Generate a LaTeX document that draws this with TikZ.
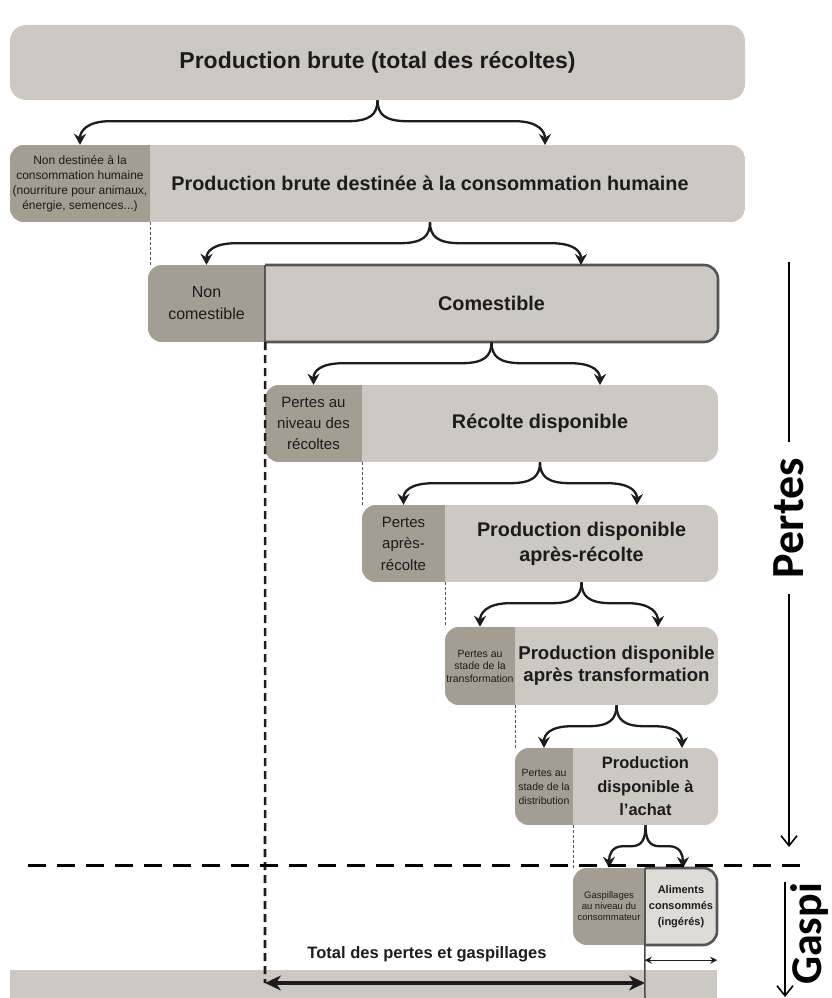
\documentclass[tikz,border=0pt]{standalone}
\usepackage{fontspec}
\setmainfont{Liberation Sans}
\newfontfamily\sidefont{Carlito}
\usetikzlibrary{arrows.meta,calc}

\definecolor{tierlight}{RGB}{205,200,193}
\definecolor{tierdark}{RGB}{164,157,145}
\definecolor{tierpale}{RGB}{223,220,215}
\definecolor{ink}{RGB}{28,28,28}

\newcommand{\fs}[2]{\fontsize{#1}{#2}\selectfont}

% one tier: dark part on the left, light part on the right
\newcommand{\tierfill}[6][tierlight]{%
	\begin{scope}
		\clip[rounded corners=14pt] (#2,#5) rectangle (#4,#6);
		\fill[#1] (#2,#5) rectangle (#4,#6);
		\fill[tierdark] (#2,#5) rectangle (#3,#6);
	\end{scope}}

% outline of a light part, square on the left
\newcommand{\tieroutline}[4]{%
	\begin{scope}
		\clip (#1,#3-3) rectangle (#2+3,#4+3);
		\draw[tieredge, rounded corners=14pt] (#1-20,#3) rectangle (#2,#4);
	\end{scope}
	\draw[tieredge] (#1,#3) -- (#1,#4);}

% curly split: tip, left end, right end, bend
\newcommand{\splitbrace}[4]{%
	\draw[split] (#1) .. controls ($(#1)+(0,14)$) and ($(#1)+(-#4/4,21)$) .. ($(#1)+(-#4,21)$)
		-- ($(#2|-#1)+(#4,21)$) .. controls ($(#2|-#1)+(#4/5,21)$) and ($(#2)+(0,-13)$) .. (#2);
	\draw[split] (#1) .. controls ($(#1)+(0,14)$) and ($(#1)+(#4/4,21)$) .. ($(#1)+(#4,21)$)
		-- ($(#3|-#1)+(-#4,21)$) .. controls ($(#3|-#1)+(-#4/5,21)$) and ($(#3)+(0,-13)$) .. (#3);}

\begin{document}
\begin{tikzpicture}[x=1pt, y=-1pt,
		part/.style={inner sep=0pt, align=center, text=ink},
		headpart/.style={part, font=\bfseries\fs{19.8}{25}},
		tieredge/.style={draw=ink!75, line width=2.6pt},
		split/.style={draw=ink, line width=2.3pt, -{Stealth[length=11pt,width=12pt]}},
		guide/.style={draw=ink!75, line width=1.4pt, dash pattern=on 3pt off 2pt},
		totalguide/.style={draw=ink, line width=2.6pt, dash pattern=on 8pt off 5pt},
		cutline/.style={draw=black, line width=3pt, dash pattern=on 18pt off 11pt},
		totalarrow/.style={draw=ink, line width=4pt, {Stealth[length=16pt,width=15pt]}-{Stealth[length=16pt,width=15pt]}},
		eatenspan/.style={draw=ink, line width=1.2pt, {Stealth[length=7pt,width=7pt]}-{Stealth[length=7pt,width=7pt]}},
		sidelabel/.style={rotate=90, anchor=base, inner sep=0pt, font=\sidefont\bfseries\fs{44}{50}},
		sideline/.style={draw=black, line width=1.6pt}]

	\useasboundingbox (0,0) rectangle (832,998);

	% tiers
	\node[part, fill=tierlight, rounded corners=16pt, minimum width=735pt, minimum height=75pt,
		font=\bfseries\fs{23}{27}] (brute) at (377.5,62.5) {Production brute (total des récoltes)};

	\tierfill{10}{150}{745}{145}{222}
	\tierfill{148}{265}{718}{265}{342}
	\tieroutline{265}{718}{265}{342}
	\tierfill{265}{362}{718}{385}{462}
	\tierfill{362}{445}{718}{505}{582}
	\tierfill{445}{515}{718}{627}{705}
	\tierfill{515}{573}{718}{748}{825}
	\tierfill[tierpale]{573}{645}{717}{868}{945}
	\tieroutline{645}{717}{868}{945}
	\fill[tierlight] (10,970) rectangle (717,998);

	\node[part, minimum width=140pt, minimum height=77pt, font=\fs{12}{15}] (nonhum) at (80,183.5)
		{Non destinée à la\\consommation humaine\\(nourriture pour animaux,\\énergie, semences...)};
	\node[headpart, minimum width=560pt, minimum height=77pt] (humaine) at (430,183.5)
		{Production brute destinée à la consommation humaine};

	\node[part, minimum width=117pt, minimum height=77pt, font=\fs{16}{22}] (noncom) at (206.5,303.5) {Non\\comestible};
	\node[headpart, minimum width=453pt, minimum height=77pt] (comest) at (491.5,303.5) {Comestible};

	\node[part, minimum width=97pt, minimum height=77pt, font=\fs{15}{21}] (pertrec) at (313.5,423.5) {Pertes au\\niveau des\\récoltes};
	\node[headpart, minimum width=356pt, minimum height=77pt] (recdisp) at (540,423.5) {Récolte disponible};

	\node[part, minimum width=83pt, minimum height=77pt, font=\fs{15}{21.5}] (pertapr) at (403.5,543.5) {Pertes\\après-\\récolte};
	\node[headpart, minimum width=273pt, minimum height=77pt] (prodapr) at (581.5,543.5) {Production disponible\\après-récolte};

	\node[part, minimum width=70pt, minimum height=78pt, font=\fs{10.5}{12.5}] (perttrans) at (480,666) {Pertes au\\stade de la\\transformation};
	\node[part, minimum width=203pt, minimum height=78pt, font=\bfseries\fs{18.6}{22}] (prodtrans) at (616.5,666) {Production disponible\\après transformation};

	\node[part, minimum width=58pt, minimum height=77pt, font=\fs{10.5}{14}] (pertdist) at (544,786.5) {Pertes au\\stade de la\\distribution};
	\node[part, minimum width=145pt, minimum height=77pt, font=\bfseries\fs{16.5}{23.5}] (prodachat) at (645.5,786.5) {Production\\disponible à\\l'achat};

	\node[part, minimum width=72pt, minimum height=77pt, font=\fs{9.5}{11}] (gaspcons) at (609,906.5) {Gaspillages\\au niveau du\\consommateur};
	\node[part, minimum width=72pt, minimum height=77pt, font=\bfseries\fs{11}{16}] (aliments) at (681,906.5) {Aliments\\consommés\\(ingérés)};

	\node[part, font=\bfseries\fs{16.5}{20}] (totaltxt) at (427,954) {Total des pertes et gaspillages};

	% dashed guides
	\coordinate (totalL) at (265,983);
	\coordinate (totalR) at (645,983);
	\coordinate (eatenfoot) at (645,998);
	\draw[guide] (nonhum.south east) -- (nonhum.south east |- noncom.north);
	\draw[totalguide] (noncom.south east) -- (totalL);
	\draw[guide] (pertrec.south east) -- (pertrec.south east |- pertapr.north);
	\draw[guide] (pertapr.south east) -- (pertapr.south east |- perttrans.north);
	\draw[guide] (perttrans.south east) -- (perttrans.south east |- pertdist.north);
	\draw[guide] (pertdist.south east) -- (pertdist.south east |- gaspcons.north);

	% splits
	\coordinate (in1) at (545,145);
	\coordinate (in2) at (581,265);
	\coordinate (in3) at (600,385);
	\coordinate (in4) at (637,505);
	\coordinate (in5) at (658,627);
	\coordinate (in6) at (682,748);
	\coordinate (in7) at (683,868);
	\splitbrace{brute.south}{nonhum.north}{in1}{30}
	\splitbrace{humaine.south}{noncom.north}{in2}{30}
	\splitbrace{comest.south}{pertrec.north}{in3}{30}
	\splitbrace{recdisp.south}{pertapr.north}{in4}{30}
	\splitbrace{prodapr.south}{perttrans.north}{in5}{30}
	\splitbrace{prodtrans.south}{pertdist.north}{in6}{28}
	\splitbrace{prodachat.south}{gaspcons.north}{in7}{14}

	% losses / waste border
	\coordinate (cutL) at (28,865);
	\coordinate (cutR) at (800,865);
	\draw[cutline] (cutL) -- (cutR);

	\draw[totalarrow] (totalL) -- (totalR);
	\draw[draw=ink!80, line width=1.5pt] (aliments.south west) -- (eatenfoot);
	\draw[eatenspan] ($(aliments.south west)+(0,15)$) -- ($(aliments.south east)+(0,15)$);

	% side labels
	\node[sidelabel, inner xsep=16pt, font=\sidefont\bfseries\fs{46}{50}] (pertes) at (803,518) {Pertes};
	\coordinate (pertestop) at (789,262);
	\coordinate (pertesend) at (789,847);
	\draw[sideline] (pertestop) -- (pertestop |- pertes.east);
	\draw[sideline, -{Straight Barb[length=10pt,width=16pt]}] (pertestop |- pertes.west) -- (pertesend);

	\node[sidelabel] (gaspi) at (821,934) {Gaspi};
	\coordinate (gaspitop) at (785,882);
	\coordinate (gaspiend) at (785,997);
	\draw[sideline, -{Straight Barb[length=10pt,width=16pt]}] (gaspitop) -- (gaspiend);
\end{tikzpicture}
\end{document}
